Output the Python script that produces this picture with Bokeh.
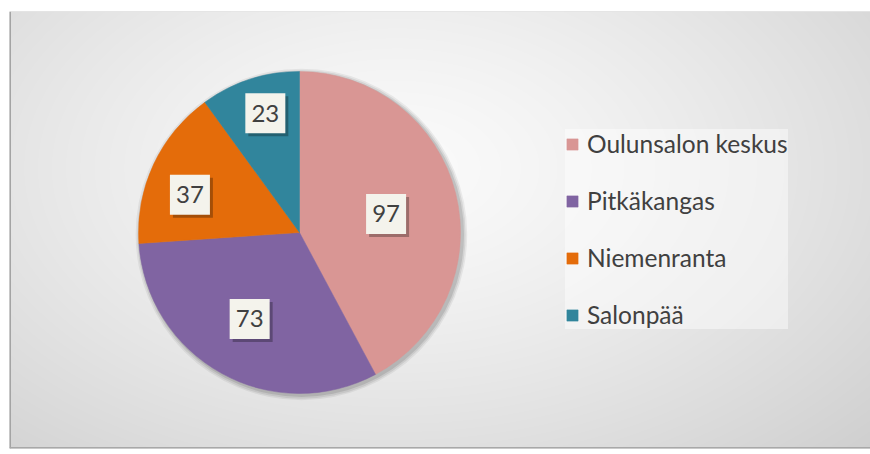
import numpy as np
from bokeh.plotting import figure
from bokeh.models import Range1d, Legend, LegendItem, ColumnDataSource, Span
from bokeh.core.properties import value
from bokeh.transform import dodge
from bokeh.embed import file_html
from bokeh.resources import INLINE

# ---- data ----
categories = ["Oulunsalon keskus", "Pitkäkangas", "Niemenranta", "Salonpää"]
values = [97, 73, 37, 23]
colors = ["#D99694", "#8064A2", "#E46C0A", "#31859C"]

# ---- layout / style ----
W, H = 870, 454
BL, BT, BB, BR = 9, 11, 6, 0          # white margins around the chart frame
FW, FH = W - BL - BR, H - BT - BB     # frame size in pixels
PX = 161.0                            # pixels per data unit (pie radius = 1)
CX_PX, CY_PX = 290, 221               # pie centre in frame pixels (from left / top)
label_r = [0.55, 0.62, 0.72, 0.77]
label_shift_deg = [-2, -1, 6, -2]
FONT = "Lato"
TEXT_COLOR = "#404040"

x0, x1 = -CX_PX / PX, (FW - CX_PX) / PX
y0, y1 = -(FH - CY_PX) / PX, CY_PX / PX

p = figure(width=W, height=H, x_range=Range1d(x0, x1), y_range=Range1d(y0, y1),
           output_backend="svg", toolbar_location=None,
           x_axis_type=None, y_axis_type=None,
           min_border_left=BL, min_border_top=BT, min_border_bottom=BB,
           min_border_right=BR)
p.grid.visible = False
p.outline_line_color = None
p.background_fill_color = "#e6e6e6"
p.border_fill_color = "#ffffff"

# background radial gradient
yy, xx = np.mgrid[0:FH, 0:FW].astype(float)
fx, fy = 0.45 * FW, 0.64 * FH   # focus (image rows start at bottom)
d = np.sqrt(((xx - fx) / (0.78 * FW)) ** 2 + ((yy - fy) / (0.95 * FH)) ** 2)
d = np.clip(d, 0, 1)
g = (251 - (251 - 206) * d ** 1.3).astype(np.uint32)
img = (np.uint32(255) << 24) | (g << 16) | (g << 8) | g
p.image_rgba(image=[img.astype(np.uint32)], x=x0, y=y0, dw=x1 - x0, dh=y1 - y0)

# chart frame edges (left & bottom darker, top faint)
p.add_layout(Span(location=x0, dimension="height", line_color="#a4a4a4", line_width=3))
p.add_layout(Span(location=y0, dimension="width", line_color="#a8a8a8", line_width=3))
p.add_layout(Span(location=y1, dimension="width", line_color="#dcdcdc", line_width=1))

# pie geometry
vals = np.array(values, dtype=float)
frac = vals / vals.sum()
cum = np.concatenate([[0], np.cumsum(frac)])
start = np.pi / 2 - cum[:-1] * 2 * np.pi
end = np.pi / 2 - cum[1:] * 2 * np.pi
mid = (start + end) / 2 + np.radians(label_shift_deg)

src = ColumnDataSource(dict(cat=categories, val=values, color=colors,
                            start=start, end=end,
                            lx=np.array(label_r) * np.cos(mid),
                            ly=np.array(label_r) * np.sin(mid),
                            txt=[str(v) for v in values]))

# soft shadow
for k, a in [(0.03, 0.06), (0.02, 0.08), (0.01, 0.10)]:
    p.circle(x=0.012, y=-0.012, radius=1 + k, fill_color="#000000",
             fill_alpha=a, line_color=None)

r = p.wedge(x=0, y=0, radius=1, start_angle="start", end_angle="end",
            direction="clock", fill_color="color", line_color="color",
            line_width=0.5, source=src)

# data label boxes
bw = 40 / PX
off = 3 / PX
p.rect(x=dodge("lx", off, range=p.x_range), y=dodge("ly", -off, range=p.y_range),
       width=bw, height=bw, source=src, fill_color="#000000", fill_alpha=0.28,
       line_color=None)
p.rect(x="lx", y="ly", width=bw, height=bw, source=src,
       fill_color="#F4F3EC", line_color=None)
p.text(x="lx", y="ly", text="txt", source=src, text_align="center",
       text_baseline="middle", text_font=value(FONT), text_font_size="24px",
       text_color=TEXT_COLOR)

legend = Legend(items=[LegendItem(label=c, renderers=[r], index=i)
                       for i, c in enumerate(categories)],
                location=(556, 119), orientation="vertical",
                background_fill_color="#ffffff", background_fill_alpha=0.45,
                border_line_color=None, glyph_width=14, glyph_height=14,
                label_text_font=FONT, label_text_font_size="24.5px",
                label_text_color=TEXT_COLOR, label_standoff=8,
                spacing=28, padding=12, margin=0)
p.add_layout(legend)

open("out.html", "w").write(file_html(p, INLINE))
